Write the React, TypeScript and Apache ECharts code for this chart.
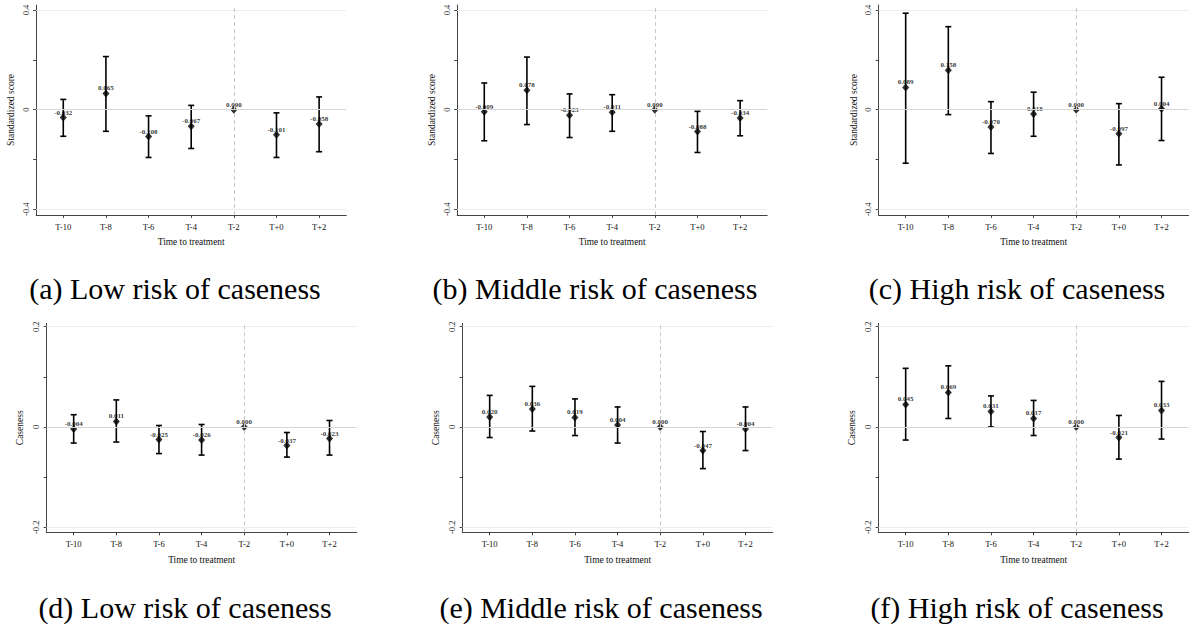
import React, { useEffect, useRef } from "react";
import * as echarts from "echarts";

// Event-time periods relative to treatment and their tick labels
const periods = [-10, -8, -6, -4, -2, 0, 2];
const periodLabels = ["T-10", "T-8", "T-6", "T-4", "T-2", "T+0", "T+2"];

// Standardized score: point estimates and 95% confidence bounds
const scoreLowEst = [-0.032, 0.065, -0.108, -0.067, 0.0, -0.101, -0.058];
const scoreLowLo = [-0.107, -0.087, -0.192, -0.156, 0.0, -0.192, -0.169];
const scoreLowHi = [0.041, 0.213, -0.025, 0.017, 0.0, -0.013, 0.051];

const scoreMidEst = [-0.009, 0.078, -0.023, -0.011, 0.0, -0.088, -0.034];
const scoreMidLo = [-0.125, -0.06, -0.112, -0.087, 0.0, -0.172, -0.105];
const scoreMidHi = [0.107, 0.211, 0.063, 0.06, 0.0, -0.007, 0.036];

const scoreHighEst = [0.089, 0.158, -0.07, -0.018, 0.0, -0.097, 0.004];
const scoreHighLo = [-0.215, -0.02, -0.176, -0.107, 0.0, -0.222, -0.124];
const scoreHighHi = [0.387, 0.333, 0.032, 0.07, 0.0, 0.024, 0.13];

// Caseness: point estimates and 95% confidence bounds
const caseLowEst = [-0.004, 0.011, -0.025, -0.026, 0.0, -0.037, -0.023];
const caseLowLo = [-0.032, -0.03, -0.053, -0.056, 0.0, -0.06, -0.056];
const caseLowHi = [0.0245, 0.054, 0.003, 0.005, 0.0, -0.011, 0.013];

const caseMidEst = [0.02, 0.036, 0.019, 0.004, 0.0, -0.047, -0.004];
const caseMidLo = [-0.021, -0.008, -0.017, -0.032, 0.0, -0.083, -0.047];
const caseMidHi = [0.063, 0.081, 0.056, 0.04, 0.0, -0.009, 0.04];

const caseHighEst = [0.045, 0.069, 0.031, 0.017, 0.0, -0.021, 0.033];
const caseHighLo = [-0.026, 0.017, 0.0, -0.017, 0.0, -0.064, -0.024];
const caseHighHi = [0.117, 0.122, 0.062, 0.053, 0.0, 0.023, 0.091];

// Y-axis ticks
const scoreLabelTicks = [0.4, 0, -0.4];
const scoreAllTicks = [0.4, 0.2, 0, -0.2, -0.4];
const caseLabelTicks = [0.2, 0, -0.2];
const caseAllTicks = [0.2, 0.1, 0, -0.1, -0.2];

const captions = [
  "(a) Low risk of caseness",
  "(b) Middle risk of caseness",
  "(c) High risk of caseness",
  "(d) Low risk of caseness",
  "(e) Middle risk of caseness",
  "(f) High risk of caseness",
];

const SERIF = '"Liberation Serif", "Times New Roman", serif';

type Panel = {
  est: number[];
  lo: number[];
  hi: number[];
  yName: string;
  labelTicks: number[];
  allTicks: number[];
  yMin: number;
  yMax: number;
  left: number;
  top: number;
  height: number;
  yNameGap: number;
  xNameGap: number;
  capX: number;
  capY: number;
};

const TOP_ROW = { top: 5, height: 210, yMin: -0.423, yMax: 0.42, capY: 288 };
const BOTTOM_ROW = { top: 323.3, height: 209, yMin: -0.21, yMax: 0.2068, capY: 607 };

const panels: Panel[] = [
  { est: scoreLowEst, lo: scoreLowLo, hi: scoreLowHi, yName: "Standardized score", labelTicks: scoreLabelTicks, allTicks: scoreAllTicks, ...TOP_ROW, left: 36.2, yNameGap: 20, xNameGap: 22, capX: 175 },
  { est: scoreMidEst, lo: scoreMidLo, hi: scoreMidHi, yName: "Standardized score", labelTicks: scoreLabelTicks, allTicks: scoreAllTicks, ...TOP_ROW, left: 457.2, yNameGap: 20, xNameGap: 22, capX: 595 },
  { est: scoreHighEst, lo: scoreHighLo, hi: scoreHighHi, yName: "Standardized score", labelTicks: scoreLabelTicks, allTicks: scoreAllTicks, ...TOP_ROW, left: 878.6, yNameGap: 20, xNameGap: 22, capX: 1017 },
  { est: caseLowEst, lo: caseLowLo, hi: caseLowHi, yName: "Caseness", labelTicks: caseLabelTicks, allTicks: caseAllTicks, ...BOTTOM_ROW, left: 46.6, yNameGap: 22, xNameGap: 23, capX: 185 },
  { est: caseMidEst, lo: caseMidLo, hi: caseMidHi, yName: "Caseness", labelTicks: caseLabelTicks, allTicks: caseAllTicks, ...BOTTOM_ROW, left: 462.6, yNameGap: 22, xNameGap: 23, capX: 601 },
  { est: caseHighEst, lo: caseHighLo, hi: caseHighHi, yName: "Caseness", labelTicks: caseLabelTicks, allTicks: caseAllTicks, ...BOTTOM_ROW, left: 878.6, yNameGap: 22, xNameGap: 23, capX: 1017 },
];

const PLOT_W = 310;
const X_MIN = -11.27;
const X_MAX = 3.27;

function buildOption(): echarts.EChartsCoreOption {
  const grid: any[] = [];
  const xAxis: any[] = [];
  const yAxis: any[] = [];
  const series: any[] = [];

  panels.forEach((p, i) => {
    grid.push({ left: p.left, top: p.top, width: PLOT_W, height: p.height, containLabel: false });

    xAxis.push({
      type: "value",
      gridIndex: i,
      min: X_MIN,
      max: X_MAX,
      name: "Time to treatment",
      nameLocation: "middle",
      nameGap: p.xNameGap,
      nameTextStyle: { fontFamily: SERIF, fontSize: 9.4, color: "#111" },
      axisLine: { show: true, onZero: false, lineStyle: { color: "#444", width: 1 } },
      axisTick: { show: true, length: 3, customValues: periods, lineStyle: { color: "#444" } },
      axisLabel: {
        show: true,
        customValues: periods,
        margin: 7,
        fontFamily: SERIF,
        fontSize: 8.6,
        color: "#111",
        formatter: (v: number) => periodLabels[periods.indexOf(v)] ?? "",
      },
      splitLine: { show: false },
    });

    yAxis.push({
      type: "value",
      gridIndex: i,
      min: p.yMin,
      max: p.yMax,
      name: p.yName,
      nameLocation: "middle",
      nameGap: p.yNameGap,
      nameTextStyle: { fontFamily: SERIF, fontSize: 9.5, color: "#111" },
      axisLine: { show: true, onZero: false, lineStyle: { color: "#444", width: 1 } },
      axisTick: { show: true, length: 3, customValues: p.allTicks, lineStyle: { color: "#444" } },
      axisLabel: {
        show: true,
        customValues: p.labelTicks,
        rotate: 90,
        margin: 6,
        fontFamily: SERIF,
        fontSize: 8.5,
        color: "#111",
      },
      splitLine: { show: false },
    });

    // Reference lines: horizontal guides and the dashed line at the base period
    series.push({
      type: "line",
      xAxisIndex: i,
      yAxisIndex: i,
      data: [],
      z: 1,
      silent: true,
      markLine: {
        silent: true,
        symbol: ["none", "none"],
        label: { show: false },
        animation: false,
        data: [
          { yAxis: p.labelTicks[0], lineStyle: { color: "#e8efef", width: 1, type: "solid" } },
          { yAxis: 0, lineStyle: { color: "#d6d6d6", width: 1, type: "solid" } },
          { yAxis: p.labelTicks[2], lineStyle: { color: "#e8efef", width: 1, type: "solid" } },
          { xAxis: -2, lineStyle: { color: "#c8c8c8", width: 1, type: [4, 3] } },
        ],
      },
    });

    // Point estimates with value labels
    series.push({
      type: "scatter",
      xAxisIndex: i,
      yAxisIndex: i,
      z: 2,
      symbol: "diamond",
      symbolSize: [7, 8],
      itemStyle: { color: "#000" },
      data: periods.map((x, k) => [x, p.est[k]]),
      label: {
        show: true,
        position: "inside",
        offset: [0, -5],
        fontFamily: SERIF,
        fontSize: 7,
        fontWeight: "bold",
        color: "#000",
        textBorderWidth: 0,
        textBorderColor: "transparent",
        formatter: (d: any) => Number(d.value[1]).toFixed(3),
      },
    });

    // Confidence-interval whiskers with caps
    series.push({
      type: "custom",
      xAxisIndex: i,
      yAxisIndex: i,
      z: 3,
      silent: true,
      data: periods.map((x, k) => [x, p.lo[k], p.hi[k]]),
      renderItem: (_params: any, api: any) => {
        const x = api.value(0);
        const lo = api.value(1);
        const hi = api.value(2);
        if (lo === hi) return { type: "group", children: [] };
        const a = api.coord([x, hi]);
        const b = api.coord([x, lo]);
        const hw = 3;
        const style = { stroke: "#000", lineWidth: 1.6 };
        return {
          type: "group",
          children: [
            { type: "line", shape: { x1: a[0], y1: a[1], x2: b[0], y2: b[1] }, style },
            { type: "line", shape: { x1: a[0] - hw, y1: a[1], x2: a[0] + hw, y2: a[1] }, style },
            { type: "line", shape: { x1: b[0] - hw, y1: b[1], x2: b[0] + hw, y2: b[1] }, style },
          ],
        };
      },
    });
  });

  const graphic = panels.map((p, i) => ({
    type: "text",
    x: p.capX,
    y: p.capY,
    silent: true,
    style: {
      text: captions[i],
      font: `30px ${SERIF}`,
      textAlign: "center",
      textVerticalAlign: "middle",
      fill: "#000",
    },
  }));

  return {
    animation: false,
    backgroundColor: "#ffffff",
    grid,
    xAxis,
    yAxis,
    series,
    graphic,
  };
}

export default function App() {
  const ref = useRef<HTMLDivElement | null>(null);

  useEffect(() => {
    document.body.style.margin = "0";
    if (!ref.current) return;
    const chart = echarts.init(ref.current, undefined, { renderer: "svg" });
    chart.setOption(buildOption());
    return () => {
      chart.dispose();
    };
  }, []);

  return <div ref={ref} style={{ width: 1192, height: 630 }} />;
}
